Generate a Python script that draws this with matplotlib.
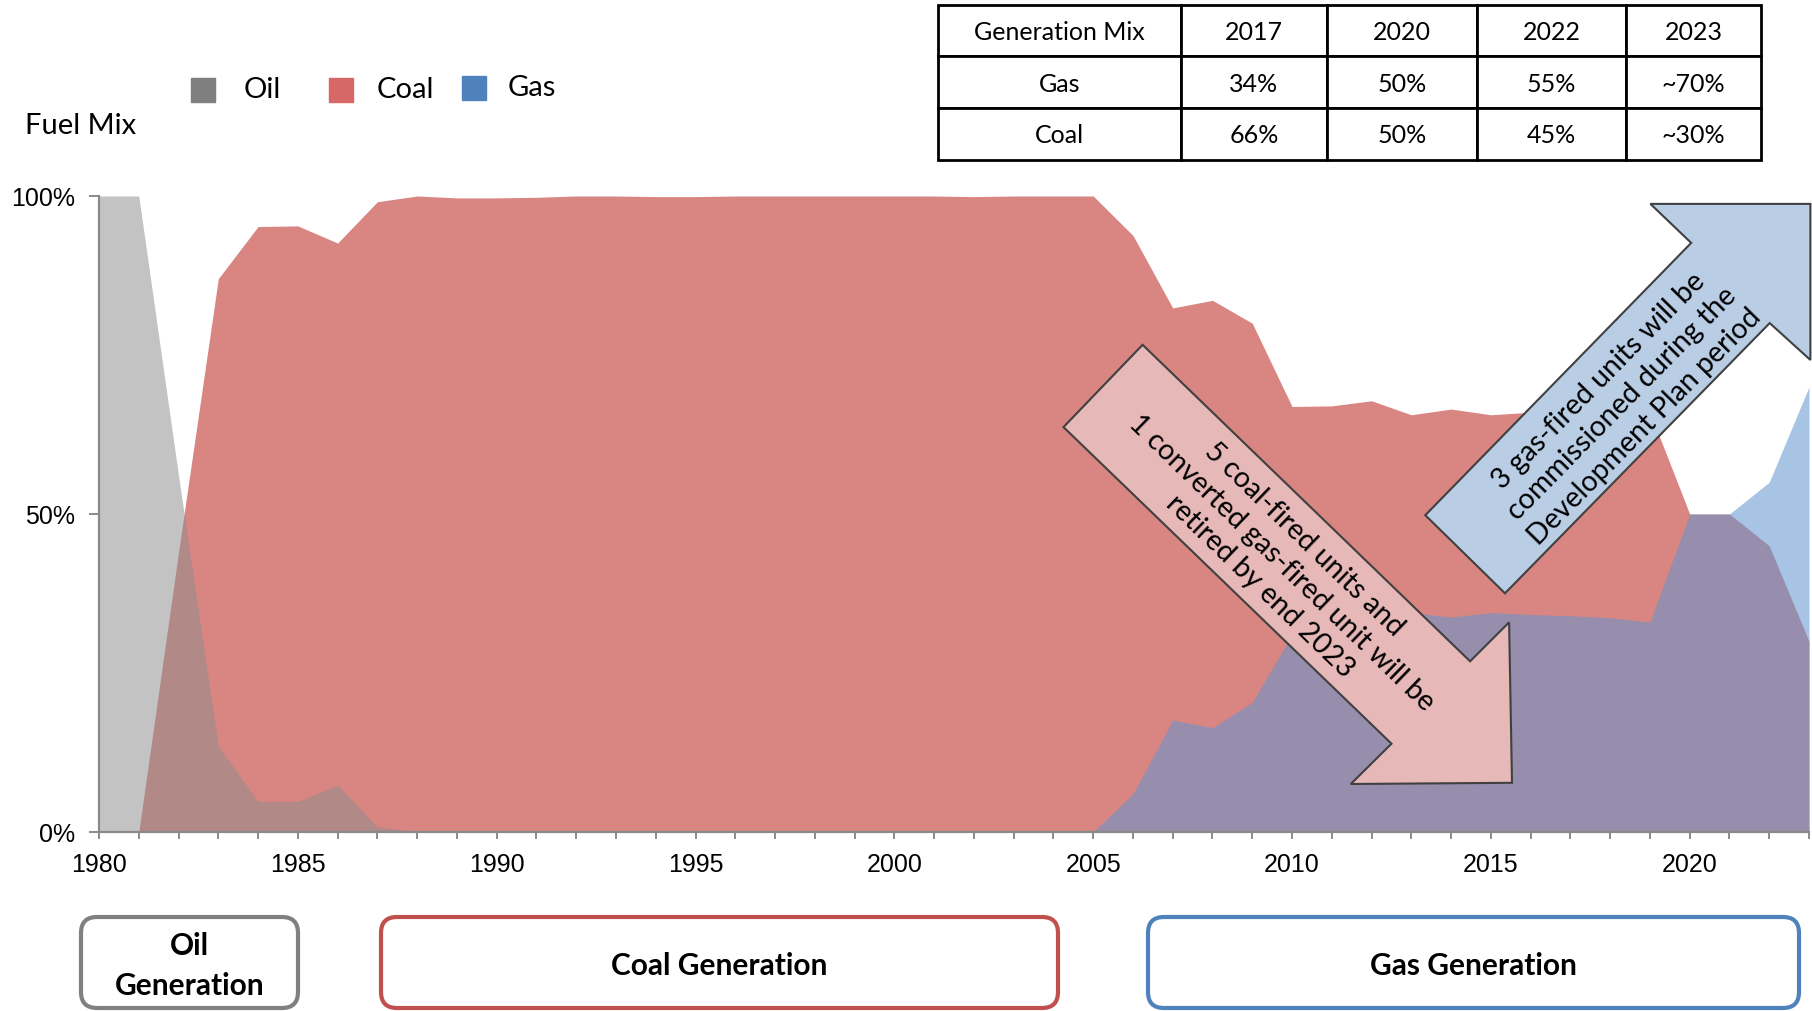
import numpy as np
import matplotlib.pyplot as plt
from matplotlib.patches import Polygon, FancyBboxPatch, Rectangle
from matplotlib.transforms import IdentityTransform
from matplotlib.ticker import FixedLocator, MultipleLocator, FuncFormatter

# Data (share of generation, %)
years = list(range(1980, 2024))
oil = [100, 100, 56, 13.5, 4.8, 4.8, 7.4, 0.8] + [0] * 36
coal = [0, 0, 44, 87, 95.2, 95.3, 92.6, 99.1, 100, 99.7, 99.7, 99.8, 100, 100,
        99.9, 99.9, 100, 100, 100, 100, 100, 100, 99.9, 100, 100, 100,
        93.8, 82.4, 83.6, 80, 66.9, 67, 67.8, 65.6, 66.5, 65.6, 66, 66, 66, 66,
        50, 50, 45, 30]
gas = [0] * 26 + [6, 17.6, 16.4, 20.4, 31, 33, 34, 34.5, 33.8, 34.5, 34.2, 34,
                  33.7, 33, 50, 50, 55, 70]

table_header = ["Generation Mix", "2017", "2020", "2022", "2023"]
table_gas = ["Gas", "34%", "50%", "55%", "~70%"]
table_coal = ["Coal", "66%", "50%", "45%", "~30%"]

W, H = 1812, 1011
TXT = ["Lato", "DejaVu Sans"]


def px(x, y):
    # pixel (top-left origin) -> display coords
    return (x, H - y)


fig = plt.figure(figsize=(W / 100, H / 100), dpi=100)
ax = fig.add_axes([99 / W, 1 - 832 / H, (1809 - 99) / W, (832 - 196) / H])

yr = np.array(years)
ax.fill_between(yr, 0, np.array(coal) / 100, color="#D98581", lw=0, zorder=1)
ax.fill_between(yr, 0, np.array(oil) / 100, color="#8E8E8E", alpha=0.53, lw=0, zorder=2)
ax.fill_between(yr, 0, np.array(gas) / 100, color="#6194D1", alpha=0.55, lw=0, zorder=3)

ax.set_xlim(1980, 2023)
ax.set_ylim(0, 1)
for s in ["top", "right"]:
    ax.spines[s].set_visible(False)
for s in ["left", "bottom"]:
    ax.spines[s].set_color("#8A8A8A")
    ax.spines[s].set_linewidth(1.6)
    ax.spines[s].set_zorder(5)

ax.xaxis.set_major_locator(MultipleLocator(5))
ax.xaxis.set_minor_locator(MultipleLocator(1))
ax.yaxis.set_major_locator(FixedLocator([0, 0.5, 1]))
ax.yaxis.set_major_formatter(FuncFormatter(lambda v, p: f"{v:.0%}"))
ax.tick_params(axis="x", which="both", direction="out", length=5, width=1.4,
               color="#8A8A8A", pad=10)
ax.tick_params(axis="y", which="major", direction="out", length=7, width=1.4,
               color="#8A8A8A", pad=10)
for lab in ax.get_xticklabels() + ax.get_yticklabels():
    lab.set_fontfamily("Liberation Sans")
    lab.set_fontsize(18)

# Legend and title
fig.text(25 / W, 1 - 126 / H, "Fuel Mix", family=TXT, fontsize=21, va="center")
legend_items = [("Oil", "#7F7F7F", 203, 90, 244),
                ("Coal", "#D86767", 341, 90, 377),
                ("Gas", "#4F81BD", 474, 88, 508)]
for name, col, cx, cy, tx in legend_items:
    fig.add_artist(Rectangle(px(cx - 12, cy + 12), 24, 24, color=col,
                             transform=IdentityTransform()))
    fig.text(tx / W, 1 - cy / H, name, family=TXT, fontsize=21, va="center")

# Table
ax_t = fig.add_axes([938 / W, 1 - 159.5 / H, (1761 - 938) / W, (159.5 - 4.6) / H])
ax_t.axis("off")
widths = np.array([243, 146, 150, 149, 135], dtype=float)
tbl = ax_t.table(cellText=[table_header, table_gas, table_coal],
                 colWidths=list(widths / widths.sum()), cellLoc="center",
                 bbox=[0, 0, 1, 1])
tbl.auto_set_font_size(False)
for cell in tbl.get_celld().values():
    cell.set_linewidth(2)
    cell.set_edgecolor("black")
    t = cell.get_text()
    t.set_fontsize(18)
    t.set_fontfamily(TXT)
    t.set_va("center_baseline")

# Arrows
pink = [(1142.6, 344.8), (1063.5, 427.1), (1391.5, 743.7), (1350.8, 784.0),
        (1512.0, 782.8), (1509.1, 622.3), (1470.1, 661.3)]
blue = [(1425.3, 515.2), (1505.0, 593.3), (1769.7, 323.1), (1810.4, 360.0),
        (1810.4, 203.9), (1650.4, 203.9), (1691.2, 242.9)]
for pts, col in [(pink, "#E6B8B7"), (blue, "#B9CDE5")]:
    fig.add_artist(Polygon([px(x, y) for x, y in pts], closed=True, fc=col,
                           ec="#404040", lw=1.5, transform=IdentityTransform(),
                           zorder=4))
fig.text(1282 / W, 1 - 563 / H,
         "5 coal-fired units and\n1 converted gas-fired unit will be\nretired by end 2023",
         family=TXT, fontsize=20.5, rotation=-44, rotation_mode="anchor",
         ha="center", va="center", multialignment="center", linespacing=1.3,
         zorder=5)
fig.text(1622 / W, 1 - 404 / H,
         "3 gas-fired units will be\ncommissioned during the\nDevelopment Plan period",
         family=TXT, fontsize=20.5, rotation=45.5, rotation_mode="anchor",
         ha="center", va="center", multialignment="center", linespacing=1.3,
         zorder=5)

# Period boxes
boxes = [("Oil\nGeneration", "#808080", 81, 298),
         ("Coal Generation", "#C0504D", 381, 1058),
         ("Gas Generation", "#4F81BD", 1148, 1799)]
for label, col, x0, x1 in boxes:
    fig.add_artist(FancyBboxPatch(px(x0, 1008), x1 - x0, 1008 - 917,
                                  boxstyle="round,pad=0,rounding_size=16",
                                  fc="white", ec=col, lw=3,
                                  transform=IdentityTransform()))
    fig.text((x0 + x1) / 2 / W, 1 - 966 / H, label, family=TXT, fontsize=21.5,
             fontweight="bold", ha="center", va="center", linespacing=1.5)

fig.savefig("out.png", dpi=100)
